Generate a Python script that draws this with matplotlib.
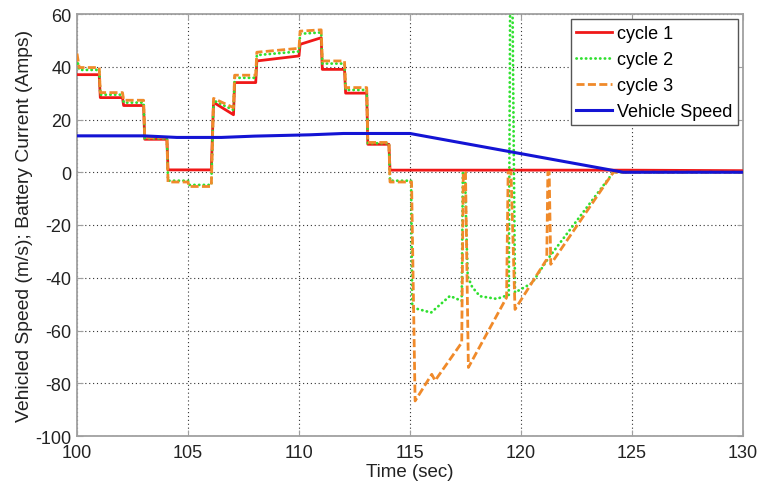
import matplotlib
matplotlib.use("Agg")
import matplotlib.pyplot as plt

plt.rcParams['font.family'] = ['Liberation Sans', 'DejaVu Sans']
plt.rcParams['axes.unicode_minus'] = False

# ---- data ----
t_c1 = [100, 101, 101.05, 102.05, 102.1, 103, 103.05, 104.05, 104.1, 106.05, 106.15,
        107.05, 107.1, 108.05, 108.1, 110.0, 110.05, 111.0, 111.05, 112.05, 112.1,
        113.05, 113.1, 114.05, 114.1, 124.6, 130]
c1 = [37, 37, 28.3, 28.3, 25.3, 25.3, 12.5, 12.5, 0.9, 0.9, 26.5,
      21.8, 34, 34, 42.2, 44.1, 48.5, 51, 39, 39, 30,
      30, 10.6, 10.6, 0.8, 0.8, 0.6]

t_c2 = [100, 100.1, 101, 101.05, 102.05, 102.1, 103, 103.05, 104.05, 104.1, 105, 105.05,
        106.05, 106.15, 107.05, 107.1, 108.05, 108.1, 110.0, 110.05, 111.0, 111.05,
        112.05, 112.1, 113.05, 113.1, 114.05, 114.1, 115.05, 115.1, 115.95, 116.8,
        117.33, 117.38, 117.48, 117.53, 117.6, 117.8, 118.15, 118.9, 119.45, 119.52,
        119.6, 119.73, 120.5, 121.2, 124.16, 130]
c2 = [43, 38.8, 38.8, 29.4, 29.4, 26.4, 26.4, 12.8, 12.8, -3.2, -3.2, -4.8,
      -4.8, 27.2, 23.6, 35.8, 35.8, 44.4, 45.8, 52.5, 53, 41.2,
      41.2, 31.2, 31.2, 11, 11, -3.2, -3.2, -51.3, -53.2, -46.9,
      -48.8, 0, 0, -20, -39.5, -43.5, -47, -48, -46.5, 80,
      80, -45.6, -42, -33, 0, 0]

t_c3 = [100, 100.1, 101, 101.05, 102.05, 102.1, 103, 103.05, 104.05, 104.1, 105, 105.05,
        106.05, 106.15, 107.05, 107.1, 108.05, 108.1, 110.0, 110.05, 111.0, 111.05,
        112.05, 112.1, 113.05, 113.1, 114.05, 114.1, 115.07, 115.23, 115.98, 116.13,
        117.33, 117.4, 117.5, 117.63, 119.35, 119.42, 119.55, 119.73, 121.16, 121.21,
        121.27, 121.34, 124.16, 130]
c3 = [45, 39.7, 39.7, 30.2, 30.2, 27.3, 27.3, 13.1, 13.1, -3.7, -3.7, -5.4,
      -5.4, 28, 24.5, 36.8, 36.8, 45.5, 47, 53.5, 54, 42.2,
      42.2, 32.1, 32.1, 11.3, 11.3, -3.7, -3.7, -86.7, -76.6, -79,
      -64.6, 0, 0, -74, -47.5, 0, 0, -52, -33, 0,
      0, -34.9, 0, 0]

t_speed = [100, 103, 104.5, 106.5, 108, 110.5, 112, 115, 124.6, 130]
speed = [13.8, 13.8, 13.2, 13.2, 13.7, 14.2, 14.7, 14.7, 0, 0]

labels = ['cycle 1', 'cycle 2', 'cycle 3', 'Vehicle Speed']
x_ticks = [100, 105, 110, 115, 120, 125, 130]
y_ticks = [-100, -80, -60, -40, -20, 0, 20, 40, 60]

# ---- figure ----
fig = plt.figure(figsize=(7.61, 4.85), dpi=100)
ax = fig.add_axes([77 / 761, 1 - 437 / 485, 666 / 761, 422 / 485])

ax.plot(t_c1, c1, color='#f01818', lw=2.0, label=labels[0], zorder=3)
ax.plot(t_c2, c2, color='#2fe02f', lw=2.0, linestyle=(0, (0.1, 1.6)),
        dash_capstyle='round', label=labels[1], zorder=4)
ax.plot(t_c3, c3, color='#f08a2a', lw=2.0, linestyle=(0, (2.9, 1.2)),
        label=labels[2], zorder=5)
ax.plot(t_speed, speed, color='#1414d4', lw=2.2, label=labels[3], zorder=6)

ax.set_xlim(100, 130)
ax.set_ylim(-100, 60)
ax.set_xticks(x_ticks)
ax.set_yticks(y_ticks)
ax.grid(True, color='#333333', linestyle=(0, (1, 2.5)), linewidth=0.8)
ax.set_axisbelow(True)

for s in ax.spines.values():
    s.set_color('#a0a0a0')
    s.set_linewidth(1.3)
ax.tick_params(direction='in', top=True, right=True, length=4, width=0.8,
               color='#a0a0a0', labelsize=13, labelcolor='#222222')
ax.tick_params(axis='x', pad=6)
ax.tick_params(axis='y', pad=4)

ax.set_xlabel('Time (sec)', fontsize=13.5, color='#222222', labelpad=1)
ax.set_ylabel('Vehicled Speed (m/s); Battery Current (Amps)', fontsize=13.9,
              color='#222222', labelpad=2)

leg = ax.legend(loc='upper right', fontsize=13, fancybox=False, framealpha=1,
                edgecolor='#555555', handlelength=2.0, handletextpad=0.25,
                labelspacing=0.5, borderaxespad=0.3, borderpad=0.3)
leg.get_frame().set_linewidth(1.0)

fig.savefig('out.png', dpi=100)
